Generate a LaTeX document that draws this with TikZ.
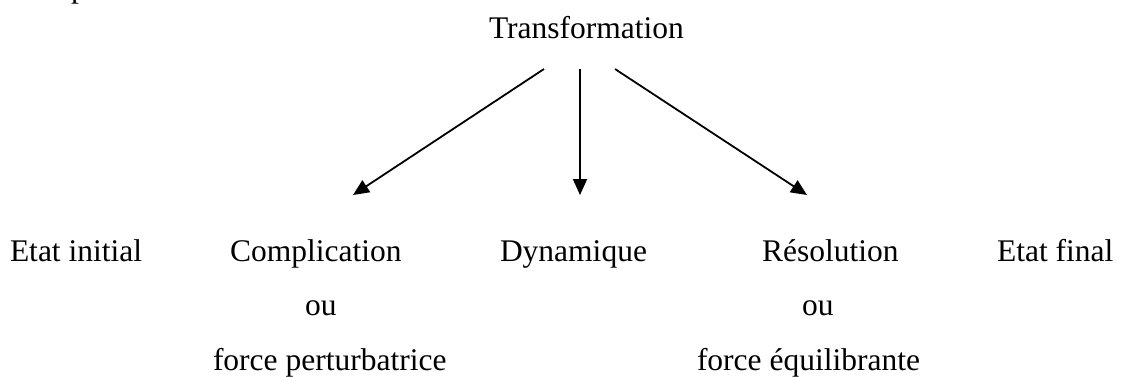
\documentclass[tikz,border=0pt]{standalone}
\usepackage{fontspec}
\setmainfont{Liberation Serif}
\usetikzlibrary{arrows.meta}
\begin{document}
\begin{tikzpicture}[x=1pt,y=-1pt,
  lbl/.style={anchor=base west,inner sep=0pt,outer sep=0pt,
    font=\fontsize{31.5}{36}\selectfont},
  link/.style={line width=1.8pt,-{Triangle[length=16pt,width=14pt]}}]
\useasboundingbox (0,0) rectangle (1121,376);
\clip (0,0) rectangle (1121,376);
% tail of the preceding line of text
\node[lbl] (prev) at (71,-3) {p};
% heading
\node[lbl] (trans) at (489,38) {Transformation};
% main row
\node[lbl] (ei) at (10,261) {Etat initial};
\node[lbl] (comp) at (230,261) {Complication};
\node[lbl] (dyn) at (500,261) {Dynamique};
\node[lbl] (reso) at (762,261) {Résolution};
\node[lbl] (ef) at (997,261) {Etat final};
% alternatives
\node[lbl] (ou1) at (305,315) {ou};
\node[lbl] (ou2) at (802,315) {ou};
\node[lbl] (fp) at (213,370) {force perturbatrice};
\node[lbl] (fe) at (697,370) {force équilibrante};
% arrow ends
\coordinate (sL) at (544,69);
\coordinate (sM) at (580,69);
\coordinate (sR) at (615,69);
\coordinate (eL) at (353,195);
\coordinate (eM) at (580,195);
\coordinate (eR) at (807,195);
\draw[link] (sL) -- (eL);
\draw[link] (sM) -- (eM);
\draw[link] (sR) -- (eR);
\end{tikzpicture}
\end{document}
